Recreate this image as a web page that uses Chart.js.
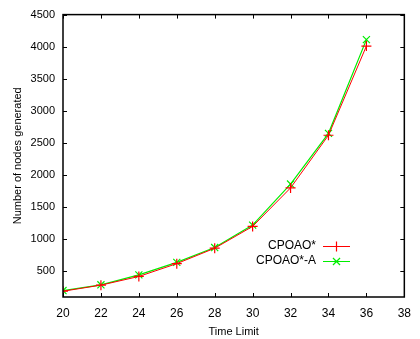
<!DOCTYPE html>
<html>
<head>
<meta charset="utf-8">
<script src="https://cdn.jsdelivr.net/npm/chart.js@4"></script>
<style>
  html, body { margin: 0; padding: 0; background: #fff; }
  #wrap { position: relative; width: 420px; height: 339px; }
</style>
</head>
<body>
<div id="wrap"><canvas id="chart"></canvas></div>
<script>
const timeLimits = [20, 22, 24, 26, 28, 30, 32, 34, 36];
const cpoao = [190, 285, 420, 620, 860, 1200, 1800, 2620, 4010];
const cpoaoA = [200, 290, 445, 640, 870, 1220, 1860, 2650, 4110];
const xTicks = [20, 22, 24, 26, 28, 30, 32, 34, 36, 38];
const yTicks = [500, 1000, 1500, 2000, 2500, 3000, 3500, 4000, 4500];

const FONT = 'Liberation Sans, Arial, Helvetica, sans-serif';

// gnuplot style: inward ticks mirrored on all four sides
const innerTicks = {
    id: 'innerTicks',
    afterDatasetsDraw(chart) {
        const { ctx, chartArea: a, scales: { x, y } } = chart;
        const len = 4;
        ctx.save();
        ctx.strokeStyle = '#000';
        ctx.lineWidth = 1;
        ctx.beginPath();
        xTicks.forEach(v => {
            const px = Math.round(x.getPixelForValue(v)) + 0.5;
            ctx.moveTo(px, a.bottom); ctx.lineTo(px, a.bottom - len);
            ctx.moveTo(px, a.top); ctx.lineTo(px, a.top + len);
        });
        yTicks.forEach(v => {
            const py = Math.round(y.getPixelForValue(v)) + 0.5;
            ctx.moveTo(a.left, py); ctx.lineTo(a.left + len, py);
            ctx.moveTo(a.right, py); ctx.lineTo(a.right - len, py);
        });
        ctx.stroke();
        ctx.lineWidth = 1.5;
        ctx.strokeRect(a.left, a.top, a.right - a.left, a.bottom - a.top);
        ctx.restore();
    }
};

// legend drawn inside the plot, text left of the sample, like gnuplot
const insideLegend = {
    id: 'insideLegend',
    afterDraw(chart) {
        const { ctx } = chart;
        const textRight = 316, lineL = 323, lineR = 350;
        const rows = [246, 261];
        ctx.save();
        ctx.font = '12px ' + FONT;
        ctx.textAlign = 'right';
        ctx.textBaseline = 'middle';
        chart.data.datasets.forEach((ds, i) => {
            const yy = rows[i];
            ctx.fillStyle = '#000';
            ctx.fillText(ds.label, textRight, yy);
            ctx.strokeStyle = ds.borderColor;
            ctx.fillStyle = ds.borderColor;
            ctx.lineWidth = 1;
            ctx.beginPath();
            ctx.moveTo(lineL, yy + 0.5); ctx.lineTo(lineR, yy + 0.5);
            ctx.stroke();
            ctx.lineWidth = 1.2;
            Chart.helpers.drawPoint(ctx, {
                pointStyle: ds.pointStyle, radius: ds.pointRadius, rotation: 0, borderWidth: 1.2
            }, (lineL + lineR) / 2, yy + 0.5);
        });
        ctx.restore();
    }
};

new Chart(document.getElementById('chart'), {
    type: 'line',
    data: {
        datasets: [
            { label: 'CPOAO*', data: cpoao, borderColor: '#ff0000', backgroundColor: '#ff0000',
              borderWidth: 1, pointStyle: 'cross', pointRadius: 5, pointBorderWidth: 1.2, pointHoverRadius: 5, tension: 0 },
            { label: 'CPOAO*-A', data: cpoaoA, borderColor: '#00ee00', backgroundColor: '#00ee00',
              borderWidth: 1.2, pointStyle: 'crossRot', pointRadius: 5, pointBorderWidth: 1.2, pointHoverRadius: 5, tension: 0 }
        ].map(ds => ({ ...ds, data: ds.data.map((v, i) => ({ x: timeLimits[i], y: v })) }))
    },
    options: {
        responsive: true,
        maintainAspectRatio: false,
        animation: false,
        events: [],
        layout: { padding: { top: 11, right: 9, left: 0, bottom: 0 } },
        plugins: { legend: { display: false }, tooltip: { enabled: false } },
        scales: {
            x: {
                type: 'linear', min: 20, max: 38,
                afterFit: s => { s.height = 42; },
                afterBuildTicks: s => { s.ticks = xTicks.map(v => ({ value: v })); },
                grid: { display: false, drawTicks: false },
                border: { display: false },
                ticks: { color: '#000', font: { family: FONT, size: 12 }, padding: 9, maxRotation: 0, callback: v => String(v) },
                title: { display: true, text: 'Time Limit', color: '#000', font: { family: FONT, size: 11 }, padding: { top: 4, bottom: 0 } }
            },
            y: {
                type: 'linear', min: 100, max: 4500,
                afterFit: s => { s.width = 63; },
                afterBuildTicks: s => { s.ticks = yTicks.map(v => ({ value: v })); },
                grid: { display: false, drawTicks: false },
                border: { display: false },
                ticks: { color: '#000', font: { family: FONT, size: 11 }, padding: 8, callback: v => String(v) },
                title: { display: true, text: 'Number of nodes generated', color: '#000', font: { family: FONT, size: 11 }, padding: { top: 11, bottom: 0 } }
            }
        }
    },
    plugins: [innerTicks, insideLegend]
});
</script>
</body>
</html>
